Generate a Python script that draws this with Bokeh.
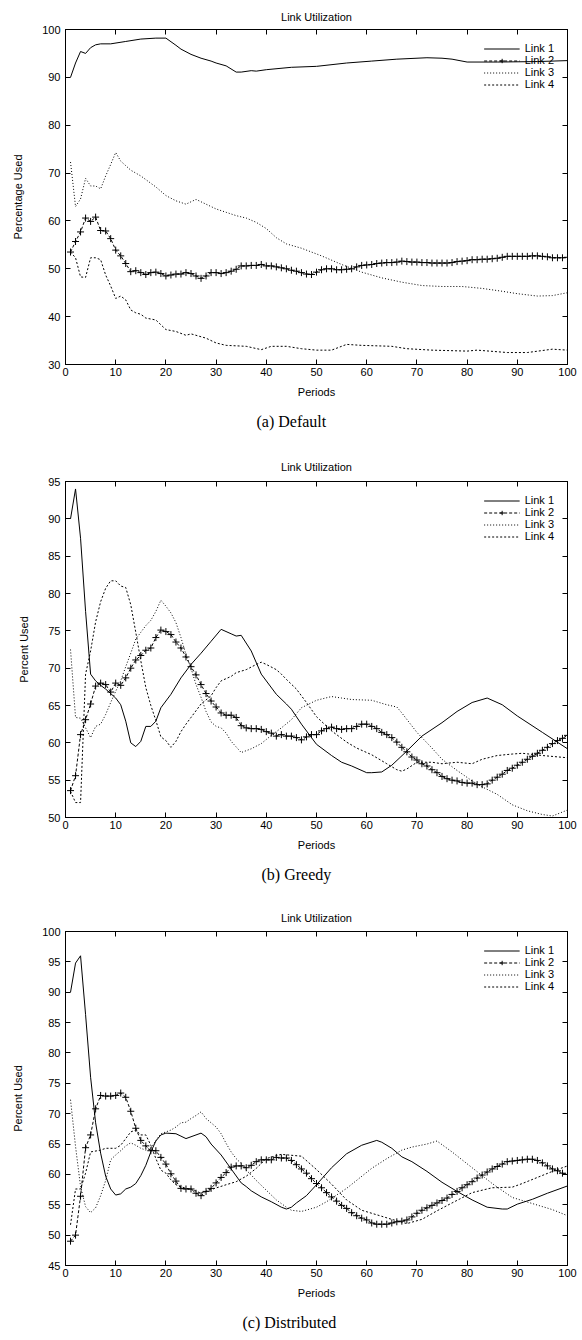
from bokeh.plotting import figure
from bokeh.models import Range1d, LinearAxis, Legend, LegendItem, Title, FixedTicker
from bokeh.layouts import column
from bokeh.embed import file_html
from bokeh.resources import INLINE

periods = list(range(1, 101))
x_ticks = list(range(0, 101, 10))

# ---------------- (a) Default ----------------
a_link1_x = [1, 2, 3, 4, 5, 6, 7, 9, 12, 15, 18, 20, 22, 23, 25, 27, 29, 30, 32, 34,
             35, 37, 38, 40, 45, 50, 56, 61, 66, 72, 75, 77, 80, 86, 94, 100]
a_link1_y = [90.0, 93.0, 95.4, 95.0, 96.2, 96.8, 97.0, 97.0, 97.5, 98.0, 98.2, 98.2, 96.7, 95.9, 94.8, 94.0, 93.4, 93.0, 92.4, 91.1,
             91.1, 91.4, 91.3, 91.6, 92.1, 92.3, 93.0, 93.4, 93.8, 94.1, 94.0, 93.8, 93.2, 93.2, 93.3, 93.5]
a_link2_y = [53.5, 55.7, 57.7, 60.6, 59.9, 60.8, 58.0, 57.9, 56.3, 53.9,
             52.7, 51.1, 49.4, 49.6, 49.2, 48.8, 49.2, 49.3, 49.0, 48.5,
             48.7, 48.9, 48.9, 49.2, 49.0, 48.5, 48.0, 48.5, 49.2, 49.2,
             49.0, 49.2, 49.5, 49.9, 50.6, 50.6, 50.7, 50.7, 50.9, 50.6,
             50.6, 50.4, 50.2, 50.0, 49.7, 49.5, 49.2, 48.9, 48.8, 49.3,
             49.8, 50.0, 50.0, 49.8, 49.8, 49.9, 50.0, 50.4, 50.7, 50.8,
             50.9, 51.1, 51.2, 51.3, 51.3, 51.4, 51.6, 51.5, 51.4, 51.4,
             51.3, 51.3, 51.2, 51.2, 51.2, 51.2, 51.3, 51.5, 51.6, 51.7,
             51.9, 51.9, 52.0, 52.0, 52.1, 52.2, 52.4, 52.6, 52.6, 52.6,
             52.6, 52.6, 52.7, 52.7, 52.6, 52.5, 52.3, 52.3, 52.3, 52.4]
a_link3_x = [1, 2, 3, 4, 5, 6, 7, 8, 9, 10, 11, 13, 15, 18, 20, 22, 24, 26, 28, 30,
             32, 34, 36, 38, 40, 42, 44, 47, 51, 55, 59, 63, 67, 71, 75, 79, 83, 87, 90, 94, 97, 100]
a_link3_y = [72.3, 63.0, 64.6, 68.9, 67.3, 67.3, 66.7, 69.4, 71.8, 74.3, 72.5, 70.6, 69.4, 67.1, 65.3, 64.2, 63.5, 64.5, 63.5, 62.5,
             61.8, 61.1, 60.6, 59.7, 58.4, 56.5, 55.2, 54.3, 52.7, 50.9, 49.3, 48.1, 47.2, 46.5, 46.3, 46.3, 45.9, 45.3, 44.8, 44.3, 44.4, 45.0]
a_link4_x = [1, 2, 3, 4, 5, 6, 7, 8, 9, 10, 11, 12, 13, 14, 15, 16, 18, 20, 22, 24,
             25, 28, 30, 32, 36, 39, 41, 44, 47, 50, 53, 56, 59, 65, 68, 73, 80, 82, 88, 92, 97, 100]
a_link4_y = [53.5, 52.3, 48.3, 48.2, 52.3, 52.3, 51.9, 48.7, 46.4, 43.8, 44.3, 43.5, 41.4, 40.8, 40.5, 39.7, 39.3, 37.3, 36.9, 36.1,
             36.4, 35.5, 34.5, 34.0, 33.8, 33.1, 33.8, 33.8, 33.3, 33.0, 33.0, 34.2, 34.0, 33.8, 33.3, 33.0, 32.8, 33.0, 32.5, 32.5, 33.2, 33.0]
a_y_ticks = list(range(30, 101, 10))

# ---------------- (b) Greedy ----------------
b_link1_x = [1, 2, 3, 4, 5, 6, 7, 8, 10, 11, 12, 13, 14, 15, 16, 17, 18, 19, 21, 23,
             25, 27, 29, 31, 33, 34, 35, 37, 39, 42, 44, 45, 47, 50, 53, 55, 57, 60, 61, 63,
             65, 68, 71, 75, 78, 81, 84, 87, 90, 95, 100]
b_link1_y = [90.0, 94.0, 87.4, 77.6, 69.2, 68.3, 67.7, 67.2, 66.0, 65.1, 62.9, 60.0, 59.5, 60.2, 62.2, 62.2, 62.9, 64.7, 66.5, 68.7,
             70.5, 72.0, 73.6, 75.2, 74.6, 74.3, 74.4, 72.3, 69.2, 66.5, 65.2, 64.5, 62.5, 59.8, 58.3, 57.4, 56.9, 56.0, 56.0, 56.1,
             57.0, 58.9, 60.9, 62.7, 64.2, 65.4, 66.0, 65.1, 63.6, 61.4, 59.2]
b_link2_y = [53.6, 55.6, 61.1, 63.1, 65.2, 67.6, 68.0, 67.8, 66.8, 68.0,
             67.7, 68.7, 70.0, 71.1, 71.7, 72.4, 72.7, 74.1, 75.1, 74.9,
             74.5, 73.5, 72.7, 71.5, 70.2, 69.1, 67.8, 66.6, 65.6, 64.8,
             64.0, 63.7, 63.7, 63.4, 62.3, 62.0, 61.9, 61.9, 61.8, 61.5,
             61.3, 60.9, 61.1, 60.9, 60.9, 60.7, 60.4, 60.8, 61.1, 61.1,
             61.6, 61.9, 62.1, 61.9, 61.8, 61.9, 61.9, 62.2, 62.5, 62.5,
             62.2, 61.9, 61.4, 61.1, 60.7, 60.1, 59.4, 58.8, 58.1, 57.7,
             57.2, 56.9, 56.4, 56.0, 55.5, 55.2, 55.0, 54.9, 54.7, 54.6,
             54.6, 54.4, 54.4, 54.5, 55.0, 55.4, 55.8, 56.3, 56.6, 57.0,
             57.4, 57.8, 58.2, 58.6, 59.0, 59.4, 59.9, 60.3, 60.6, 61.0]
b_link3_x = [1, 2, 3, 4, 5, 6, 7, 8, 9, 10, 11, 12, 13, 14, 15, 16, 17, 18, 19, 20,
             21, 22, 23, 24, 25, 26, 27, 28, 29, 30, 31, 32, 33, 35, 37, 39, 41, 43, 45, 47,
             50, 53, 55, 57, 61, 64, 66, 67, 70, 73, 75, 78, 81, 83, 86, 89, 92, 95, 97, 100]
b_link3_y = [72.5, 63.4, 63.3, 62.0, 60.7, 62.2, 62.5, 63.8, 65.4, 66.9, 68.3, 70.2, 72.0, 73.9, 74.8, 75.7, 76.4, 77.6, 79.1, 78.3,
             77.4, 76.1, 74.1, 71.8, 70.0, 67.8, 66.1, 64.2, 62.8, 62.2, 62.0, 61.3, 60.2, 58.7, 59.2, 59.9, 61.0, 62.0, 63.1, 64.7,
             65.7, 66.2, 66.0, 65.8, 65.7, 65.1, 64.8, 64.0, 61.4, 59.3, 57.8, 56.3, 54.9, 54.1, 53.1, 51.7, 50.9, 50.4, 50.2, 51.0]
b_link4_x = [1, 2, 3, 4, 5, 6, 7, 8, 9, 10, 11, 12, 13, 14, 15, 16, 17, 18, 19, 20,
             21, 22, 23, 24, 25, 27, 29, 30, 31, 33, 34, 36, 38, 39, 40, 42, 43, 44, 46, 48,
             50, 53, 56, 58, 61, 64, 66, 67, 68, 70, 73, 75, 78, 81, 83, 86, 89, 91, 95, 100]
b_link4_y = [53.5, 52.0, 52.0, 69.2, 72.3, 76.2, 78.9, 80.7, 81.7, 81.7, 81.0, 80.8, 78.5, 74.8, 71.0, 67.4, 65.0, 63.0, 60.8, 60.3,
             59.4, 60.2, 61.5, 62.5, 63.4, 65.2, 66.3, 67.4, 68.3, 68.9, 69.4, 69.8, 70.5, 70.8, 70.5, 69.8, 69.2, 68.5, 67.2, 65.4,
             63.5, 61.6, 60.1, 59.3, 58.4, 57.2, 56.4, 56.2, 56.5, 57.4, 57.4, 57.2, 57.4, 57.2, 57.8, 58.3, 58.5, 58.6, 58.3, 58.0]
b_y_ticks = list(range(50, 96, 5))

# ---------------- (c) Distributed ----------------
c_link1_x = [1, 2, 3, 4, 5, 6, 7, 8, 9, 10, 11, 12, 13, 14, 15, 16, 17, 18, 19, 20,
             22, 23, 24, 25, 27, 28, 29, 31, 33, 35, 36, 37, 39, 41, 43, 44, 45, 46, 48, 50,
             53, 56, 59, 62, 63, 65, 67, 69, 72, 75, 78, 81, 84, 87, 88, 90, 93, 96, 100]
c_link1_y = [90.0, 94.8, 96.0, 86.3, 76.0, 68.5, 63.5, 59.7, 57.6, 56.6, 56.8, 57.6, 57.9, 58.5, 59.8, 61.5, 63.7, 65.5, 66.5, 66.8,
             66.7, 66.3, 65.9, 66.2, 66.8, 66.2, 65.0, 63.2, 60.9, 58.6, 58.0, 57.3, 56.3, 55.5, 54.6, 54.3, 54.6, 55.3, 56.5, 58.3,
             61.1, 63.4, 64.8, 65.6, 65.3, 64.3, 62.9, 62.1, 60.5, 58.7, 57.2, 55.8, 54.6, 54.3, 54.3, 55.1, 55.9, 56.9, 58.1]
c_link2_y = [49.0, 50.0, 56.4, 64.4, 66.5, 70.8, 73.0, 72.9, 72.9, 73.0,
             73.4, 72.7, 70.4, 67.6, 65.6, 64.7, 63.9, 63.9, 62.8, 61.7,
             60.1, 58.9, 57.7, 57.6, 57.6, 56.9, 56.5, 57.2, 57.7, 58.6,
             59.5, 60.3, 61.2, 61.4, 61.4, 61.1, 61.5, 62.1, 62.4, 62.4,
             62.4, 62.8, 62.7, 62.7, 62.3, 61.6, 60.9, 60.2, 59.3, 58.5,
             57.8, 57.0, 56.3, 55.6, 54.9, 54.4, 53.7, 53.2, 52.8, 52.5,
             52.0, 51.8, 51.8, 51.8, 52.0, 52.2, 52.3, 52.5, 53.0, 53.6,
             54.1, 54.5, 54.9, 55.3, 55.7, 56.1, 56.7, 57.2, 57.8, 58.3,
             58.8, 59.4, 59.9, 60.4, 60.9, 61.3, 61.7, 62.1, 62.2, 62.3,
             62.4, 62.5, 62.5, 62.3, 61.9, 61.4, 60.9, 60.6, 60.2, 60.0]
c_link3_x = [1, 2, 3, 4, 5, 6, 7, 8, 9, 10, 11, 12, 13, 14, 15, 16, 17, 18, 19, 20,
             21, 22, 23, 24, 25, 26, 27, 28, 29, 30, 31, 32, 33, 34, 35, 36, 37, 38, 40, 41,
             42, 44, 45, 47, 50, 52, 56, 61, 64, 67, 69, 72, 74, 77, 81, 85, 89, 93, 97, 100]
c_link3_y = [72.3, 64.6, 58.0, 54.7, 53.7, 54.5, 56.5, 59.0, 62.4, 63.2, 63.9, 64.7, 65.2, 64.8, 64.3, 64.0, 64.3, 65.6, 66.7, 67.0,
             67.3, 67.8, 68.5, 68.6, 69.2, 69.7, 70.3, 69.2, 68.5, 67.8, 66.7, 65.1, 63.7, 62.6, 61.8, 60.7, 59.9, 59.0, 57.4, 56.6,
             55.8, 54.6, 54.1, 53.9, 54.6, 55.5, 57.7, 61.0, 62.6, 64.0, 64.5, 65.0, 65.5, 63.7, 61.1, 58.5, 56.2, 55.2, 54.2, 53.2]
c_link4_x = [1, 2, 3, 4, 5, 7, 8, 10, 11, 12, 13, 14, 15, 16, 17, 18, 19, 20, 21, 22,
             24, 25, 27, 29, 32, 34, 36, 38, 40, 42, 43, 47, 50, 53, 56, 59, 63, 65, 68, 71,
             74, 77, 81, 85, 89, 91, 94, 97, 100]
c_link4_y = [51.7, 57.6, 57.6, 60.2, 63.7, 64.0, 64.3, 64.3, 64.8, 65.9, 67.0, 67.3, 66.5, 66.5, 64.8, 62.6, 60.7, 60.2, 59.1, 58.3,
             57.7, 57.6, 56.9, 57.5, 58.3, 58.8, 59.7, 61.0, 62.6, 63.1, 63.3, 63.0, 60.8, 58.4, 55.8, 54.1, 53.1, 52.6, 51.9, 52.6,
             54.0, 55.3, 57.0, 57.8, 57.9, 58.5, 59.5, 60.5, 61.4]
c_y_ticks = list(range(45, 101, 5))

legend_labels = ["Link 1", "Link 2", "Link 3", "Link 4"]

SANS = "Liberation Sans"
SERIF = "Liberation Serif"


def style_axis(ax, ticks, show_labels=True):
    ax.ticker = FixedTicker(ticks=ticks)
    ax.major_tick_in = 5
    ax.major_tick_out = 0
    ax.minor_tick_in = 0
    ax.minor_tick_out = 0
    ax.axis_line_color = "black"
    ax.major_tick_line_color = "black"
    ax.major_label_text_font = SANS
    if show_labels:
        ax.major_label_text_font_size = "11px"
        ax.major_label_text_color = "black"
    else:
        ax.major_label_text_font_size = "1px"
        ax.major_label_text_color = None
        ax.major_label_standoff = 0
    ax.axis_label_text_font = SANS
    ax.axis_label_text_font_size = "11px"
    ax.axis_label_text_font_style = "normal"
    ax.axis_label_text_color = "black"


def make_panel(ylabel, ymin, ymax, yticks, caption, cap_offset, l1x, l1y, l2y, l3x, l3y, l4x, l4y,
               height, top, bottom, left, title_standoff):
    p = figure(width=582, height=height, x_range=Range1d(0, 100), y_range=Range1d(ymin, ymax),
               output_backend="svg", toolbar_location=None,
               min_border_left=left, min_border_right=15, min_border_top=top, min_border_bottom=bottom)
    p.title.text = "Link Utilization"
    p.title.align = "center"
    p.title.text_font = SANS
    p.title.text_font_size = "11px"
    p.title.text_font_style = "normal"
    p.title.text_color = "black"
    p.title.standoff = title_standoff
    p.xgrid.visible = False
    p.ygrid.visible = False
    p.outline_line_color = "black"
    p.outline_line_alpha = 1.0
    p.outline_line_width = 1

    style_axis(p.xaxis[0], x_ticks)
    style_axis(p.yaxis[0], yticks)
    p.xaxis[0].axis_label = "Periods"
    p.xaxis[0].major_label_standoff = 3
    p.xaxis[0].axis_label_standoff = 7
    p.yaxis[0].axis_label = ylabel
    p.yaxis[0].major_label_standoff = 5
    p.yaxis[0].axis_label_standoff = 15

    top_ax = LinearAxis()
    style_axis(top_ax, x_ticks, show_labels=False)
    p.add_layout(top_ax, "above")
    right_ax = LinearAxis()
    style_axis(right_ax, yticks, show_labels=False)
    p.add_layout(right_ax, "right")

    r1 = p.line(l1x, l1y, line_color="black", line_width=1)
    r2 = p.line(periods, l2y, line_color="black", line_width=1, line_dash="3 2")
    r2m = p.scatter(periods, l2y, marker="cross", size=7, line_color="black", line_width=1)
    r3 = p.line(l3x, l3y, line_color="black", line_width=1, line_dash="1 2")
    r4 = p.line(l4x, l4y, line_color="black", line_width=1, line_dash="2 2")

    legend = Legend(items=[
        LegendItem(label=legend_labels[0], renderers=[r1]),
        LegendItem(label=legend_labels[1], renderers=[r2, r2m]),
        LegendItem(label=legend_labels[2], renderers=[r3]),
        LegendItem(label=legend_labels[3], renderers=[r4]),
    ], location="top_right")
    legend.background_fill_alpha = 0
    legend.border_line_alpha = 0
    legend.label_text_font = SANS
    legend.label_text_font_size = "11px"
    legend.label_text_color = "black"
    legend.label_height = 11
    legend.glyph_height = 11
    legend.glyph_width = 36
    legend.label_standoff = 5
    legend.spacing = 0
    legend.padding = 3
    legend.margin = 10
    p.add_layout(legend)

    cap = Title(text=caption, align="left", text_font=SERIF, text_font_size="16px",
                text_font_style="normal", text_color="black", standoff=20, offset=cap_offset)
    p.add_layout(cap, "below")
    return p


pa = make_panel("Percentage Used", 30, 100, a_y_ticks, "(a)  Default", 191,
                a_link1_x, a_link1_y, a_link2_y, a_link3_x, a_link3_y, a_link4_x, a_link4_y,
                height=443, top=29, bottom=79, left=65, title_standoff=13)
pb = make_panel("Percent Used", 50, 95, b_y_ticks, "(b)  Greedy", 196,
                b_link1_x, b_link1_y, b_link2_y, b_link3_x, b_link3_y, b_link4_x, b_link4_y,
                height=452, top=38, bottom=78, left=58, title_standoff=17)
pc = make_panel("Percent Used", 45, 100, c_y_ticks, "(c)  Distributed", 177,
                c_link1_x, c_link1_y, c_link2_y, c_link3_x, c_link3_y, c_link4_x, c_link4_y,
                height=445, top=36, bottom=72, left=65, title_standoff=15)

layout = column(pa, pb, pc, spacing=0)
open("out.html", "w").write(file_html(layout, INLINE))
